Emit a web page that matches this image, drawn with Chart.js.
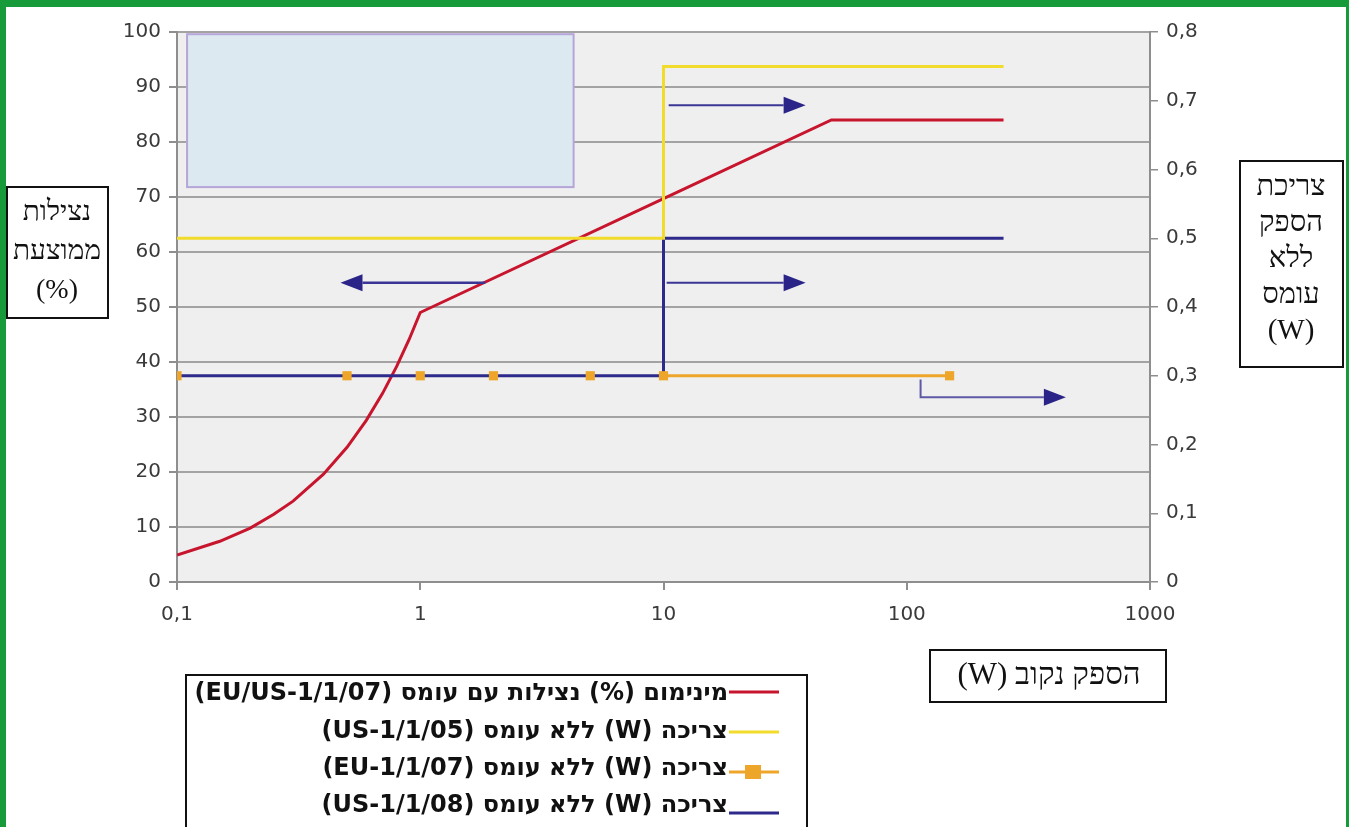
<!DOCTYPE html>
<html><head><meta charset="utf-8">
<script src="https://cdn.jsdelivr.net/npm/chart.js@4"></script>
<style>html,body{margin:0;padding:0;background:#fff;}canvas{display:block;}</style>
</head><body>
<canvas id="c" width="1349" height="827"></canvas>
<script>
// ---- data ----
const redPower = [0.1, 0.15, 0.2, 0.25, 0.3, 0.4, 0.5, 0.6, 0.7, 0.8, 0.9, 1, 10, 49, 250];
const redEff   = [4.9, 7.4, 9.8, 12.3, 14.7, 19.6, 24.5, 29.4, 34.3, 39.2, 44.1, 49, 69.7, 84, 84];
const yellowPower = [0.1, 10, 10, 250];
const yellowW     = [0.5, 0.5, 0.75, 0.75];
const orangePower = [0.1, 0.5, 1, 2, 5, 10, 150];
const orangeW     = [0.3, 0.3, 0.3, 0.3, 0.3, 0.3, 0.3];
const bluePower = [0.1, 10, 10, 250];
const blueW     = [0.3, 0.3, 0.5, 0.5];
const seriesLabels = [
  'מינימום (%) נצילות עם עומס (EU/US-1/1/07)',
  'צריכה (W) ללא עומס (US-1/1/05)',
  'צריכה (W) ללא עומס (EU-1/1/07)',
  'צריכה (W) ללא עומס (US-1/1/08)'
];
const xTickValues = [0.1, 1, 10, 100, 1000];
const xTickLabels = ['0,1', '1', '10', '100', '1000'];
const rightTickLabels = ['0', '0,1', '0,2', '0,3', '0,4', '0,5', '0,6', '0,7', '0,8'];
const leftTitle = ['נצילות', 'ממוצעת', '(%)'];
const rightTitle = ['צריכת', 'הספק', 'ללא', 'עומס', '(W)'];
const bottomTitle = 'הספק נקוב (W)';

// annotations in data coordinates (x: W, y: left axis %)
const arrowNotes = [
  {from: [1.85, 54.4], to: [0.47, 54.4], w: 2.5},
  {from: [10.5, 86.7], to: [38.4, 86.7], w: 2},
  {from: [10.3, 54.4], to: [38.4, 54.4], w: 2},
  {start: [114, 36.8], from: [114, 33.6], to: [451, 33.6], w: 2}
];
const blueBox = {x0: 0.11, x1: 4.27, y0: 71.8, y1: 99.6};

const RED = '#c8152e', YELLOW = '#f1dc2b', ORANGE = '#eda62a', BLUE = '#2e2a8c';
const pts = (xs, ys) => xs.map((x, i) => ({x: x, y: ys[i]}));

const framePlugin = {
  id: 'frame',
  beforeDraw(chart) {
    const ctx = chart.ctx, a = chart.chartArea;
    ctx.save();
    ctx.fillStyle = '#169a3a';
    ctx.fillRect(0, 0, chart.width, chart.height);
    ctx.fillStyle = '#ffffff';
    ctx.fillRect(6, 7, 1340, chart.height);
    ctx.fillStyle = '#efefef';
    ctx.fillRect(a.left, a.top, a.right - a.left, a.bottom - a.top);
    ctx.restore();
  },
  beforeDatasetsDraw(chart) {
    const ctx = chart.ctx, x = chart.scales.x, y = chart.scales.y;
    const l = x.getPixelForValue(blueBox.x0), r = x.getPixelForValue(blueBox.x1);
    const t = y.getPixelForValue(blueBox.y1), b = y.getPixelForValue(blueBox.y0);
    ctx.save();
    ctx.fillStyle = '#dde9f0';
    ctx.fillRect(l, t, r - l, b - t);
    ctx.strokeStyle = '#b6a5d8';
    ctx.lineWidth = 2;
    ctx.strokeRect(l, t, r - l, b - t);
    ctx.restore();
  },
  afterDatasetsDraw(chart) {
    const ctx = chart.ctx, x = chart.scales.x, y = chart.scales.y;
    ctx.save();
    arrowNotes.forEach(n => {
      const fx = x.getPixelForValue(n.from[0]), fy = y.getPixelForValue(n.from[1]);
      const tx = x.getPixelForValue(n.to[0]), ty = y.getPixelForValue(n.to[1]);
      const dir = tx > fx ? 1 : -1;
      const head = 22, half = 8.5;
      ctx.strokeStyle = n.start ? '#5d59a6' : '#3b3696';
      ctx.lineWidth = n.w;
      ctx.beginPath();
      if (n.start) {
        ctx.moveTo(x.getPixelForValue(n.start[0]), y.getPixelForValue(n.start[1]));
        ctx.lineTo(fx, fy);
      } else {
        ctx.moveTo(fx, fy);
      }
      ctx.lineTo(tx - dir * head, ty);
      ctx.stroke();
      ctx.fillStyle = '#2a2488';
      ctx.beginPath();
      ctx.moveTo(tx, ty);
      ctx.lineTo(tx - dir * head, ty - half);
      ctx.lineTo(tx - dir * head, ty + half);
      ctx.closePath();
      ctx.fill();
    });
    ctx.restore();
  },
  afterDraw(chart) {
    const ctx = chart.ctx;
    ctx.save();
    const serif = '"Liberation Serif", "DejaVu Serif", "Noto Sans", serif';
    function box(l, t, r, b) {
      ctx.fillStyle = '#fff';
      ctx.fillRect(l, t, r - l, b - t);
      ctx.strokeStyle = '#111';
      ctx.lineWidth = 2;
      ctx.strokeRect(l, t, r - l, b - t);
    }
    ctx.textBaseline = 'middle';
    ctx.textAlign = 'center';
    ctx.direction = 'rtl';
    // left title box
    box(7, 187, 108, 318);
    ctx.fillStyle = '#111';
    ctx.font = '28px ' + serif;
    leftTitle.forEach((s, i) => ctx.fillText(s, 57, 213 + i * 39));
    // right title box
    box(1240, 161, 1343, 367);
    ctx.fillStyle = '#111';
    ctx.font = '29px ' + serif;
    rightTitle.forEach((s, i) => ctx.fillText(s, 1291, 187 + i * 36));
    // bottom title box
    box(930, 650, 1166, 702);
    ctx.fillStyle = '#111';
    ctx.font = '31px ' + serif;
    ctx.fillText(bottomTitle, 1049, 676);

    // legend
    ctx.strokeStyle = '#111';
    ctx.lineWidth = 2;
    ctx.fillStyle = '#fff';
    ctx.fillRect(186, 675, 621, 160);
    ctx.beginPath();
    ctx.moveTo(186, 840); ctx.lineTo(186, 675); ctx.lineTo(807, 675); ctx.lineTo(807, 840);
    ctx.stroke();
    const fam = '"DejaVu Sans", "Liberation Sans", Arial, sans-serif';
    ctx.font = 'bold 20px ' + fam;
    const w0 = ctx.measureText(chart.data.datasets[0].label).width;
    const fs = Math.max(17, Math.min(24, 20 * 540 / w0));
    ctx.font = 'bold ' + fs.toFixed(1) + 'px ' + fam;
    ctx.textAlign = 'right';
    const rowsY = [694, 732, 769, 806];
    const sampleY = [692, 732, 772, 813];
    [0, 1, 2, 3].forEach((di, i) => {
      const ds = chart.data.datasets[di];
      ctx.fillStyle = '#111';
      ctx.fillText(ds.label, 728, rowsY[i]);
      ctx.strokeStyle = ds.borderColor;
      ctx.lineWidth = 3;
      ctx.beginPath();
      ctx.moveTo(729, sampleY[i]); ctx.lineTo(779, sampleY[i]);
      ctx.stroke();
      if (ds.pointRadius > 0) {
        ctx.fillStyle = ds.pointBackgroundColor;
        ctx.fillRect(745, sampleY[i] - 7, 16, 14);
      }
    });
    ctx.restore();
  }
};

const tickFont = {family: '"DejaVu Sans", Verdana, sans-serif', size: 20};
const gridGrey = '#a3a3a3', axisGrey = '#8e8e8e';

new Chart(document.getElementById('c'), {
  type: 'line',
  data: {
    datasets: [
      {label: seriesLabels[0], data: pts(redPower, redEff), yAxisID: 'y', borderColor: RED, borderWidth: 3,
       pointRadius: 0, tension: 0, order: 3},
      {label: seriesLabels[1], data: pts(yellowPower, yellowW), yAxisID: 'y1', borderColor: YELLOW, borderWidth: 3,
       pointRadius: 0, tension: 0, order: 1},
      {label: seriesLabels[2], data: pts(orangePower, orangeW), yAxisID: 'y1', borderColor: ORANGE, borderWidth: 3,
       pointRadius: 6.5, pointStyle: 'rect', pointBackgroundColor: ORANGE, pointBorderColor: ORANGE, pointBorderWidth: 0,
       tension: 0, order: 0,
       segment: {borderColor: c => c.p0.parsed.x < 10 ? 'rgba(0,0,0,0)' : ORANGE}},
      {label: seriesLabels[3], data: pts(bluePower, blueW), yAxisID: 'y1', borderColor: BLUE, borderWidth: 3,
       pointRadius: 0, tension: 0, order: 2}
    ]
  },
  options: {
    responsive: false,
    animation: false,
    devicePixelRatio: 1,
    layout: {padding: {left: 0, right: 139, top: 32, bottom: 195}},
    plugins: {legend: {display: false}, tooltip: {enabled: false}, title: {display: false}},
    scales: {
      x: {
        type: 'logarithmic', min: 0.1, max: 1000,
        afterBuildTicks: s => { s.ticks = xTickValues.map(v => ({value: v})); },
        afterFit: s => { s.height = 50; },
        ticks: {font: tickFont, color: '#3a3a3a', padding: 13, maxRotation: 0, autoSkip: false,
                callback: (v, i) => xTickLabels[i]},
        grid: {drawOnChartArea: false, drawTicks: true, tickLength: 8, color: axisGrey, lineWidth: 2},
        border: {display: true, color: axisGrey, width: 2}
      },
      y: {
        position: 'left', min: 0, max: 100,
        afterFit: s => { s.width = 177; },
        ticks: {stepSize: 10, font: tickFont, color: '#3a3a3a', padding: 8},
        grid: {color: gridGrey, lineWidth: 2, tickLength: 8, tickColor: axisGrey},
        border: {display: true, color: axisGrey, width: 2}
      },
      y1: {
        position: 'right', min: 0, max: 0.8,
        afterFit: s => { s.width = 60; },
        ticks: {stepSize: 0.1, font: tickFont, color: '#3a3a3a', padding: 8,
                callback: (v, i) => rightTickLabels[i]},
        grid: {drawOnChartArea: false, tickLength: 8, color: axisGrey, lineWidth: 1.5},
        border: {display: true, color: axisGrey, width: 2}
      }
    }
  },
  plugins: [framePlugin]
});
</script>
</body></html>
